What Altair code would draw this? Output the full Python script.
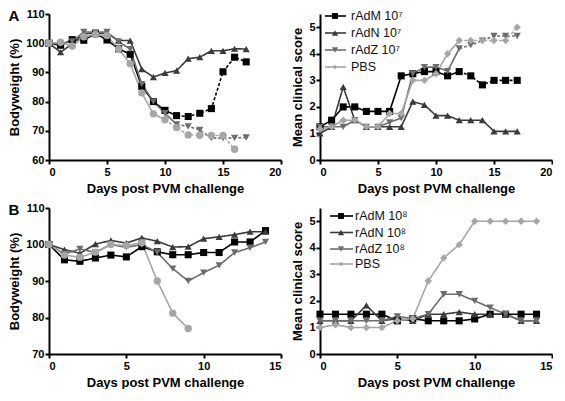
import altair as alt
import pandas as pd

series_keys = ["rAdM", "rAdN", "rAdZ", "PBS"]
legend_labels_A = ["rAdM 10⁷", "rAdN 10⁷", "rAdZ 10⁷", "PBS"]
legend_labels_B = ["rAdM 10⁸", "rAdN 10⁸", "rAdZ 10⁸", "PBS"]

days_A = list(range(18))
days_B = list(range(15))

# Panel A - bodyweight (%)
weight_A_rAdM = [100, 99.3, 101.2, 101, 103.3, 101.1, 98.1, 96.2, 85.2, 80, 77, 75.2, 74.9, 76, 77.6, 90.2, 95.2, 93.6]
weight_A_rAdN = [100, 96.9, 99.8, 103.2, 103.5, 103.4, 100.9, 100.9, 91.1, 88.4, 89.8, 90.6, 94.7, 95.2, 97.4, 97.4, 98.1, 98]
weight_A_rAdZ = [100, 99.8, 100.6, 103.9, 103.7, 103.9, 100.5, 98, 86, 80, 76, 72.2, 71.5, 70.3, 67.5, 67.5, 67.6, 67.7]
weight_A_PBS = [100, 100.3, 99, 102.2, 103, 102.6, 98, 93, 83, 75.8, 73.8, 71.1, 68.6, 68.5, 68.4, 68.4, 63.7]
dash_A_weight = [11, None, 11, 10]

# Panel A - mean clinical score
score_A_rAdM = [1.25, 1.5, 2.0, 2.0, 1.83, 1.83, 1.83, 3.17, 3.25, 3.33, 3.33, 3.17, 3.33, 3.17, 2.83, 3.0, 3.0, 3.0]
score_A_rAdN = [1.0, 1.25, 2.75, 1.5, 1.25, 1.25, 1.25, 1.25, 2.2, 2.08, 1.67, 1.67, 1.5, 1.5, 1.5, 1.08, 1.08, 1.08]
score_A_rAdZ = [1.25, 1.25, 1.25, 1.5, 1.25, 1.25, 1.42, 1.58, 3.25, 3.5, 3.5, 3.35, 4.2, 4.33, 4.5, 4.67, 4.67, 4.67]
score_A_PBS = [1.17, 1.25, 1.5, 1.5, 1.25, 1.25, 1.75, 1.75, 3.0, 3.0, 3.25, 4.0, 4.5, 4.5, 4.5, 4.5, 4.5, 5.0]
dash_A_score = [12, None, 12, 12]

# Panel B - bodyweight (%)
weight_B_rAdM = [100, 95.8, 95.4, 96.3, 97.1, 96.6, 99.4, 98, 97.2, 97.2, 97.8, 97.8, 100.7, 100.7, 103.8]
weight_B_rAdN = [100, 98.6, 97.6, 100.1, 101.1, 100.4, 101.8, 100.9, 99.3, 99.4, 101.6, 102.1, 102.7, 103.5, 103.5]
weight_B_rAdZ = [100, 97.4, 98.8, 97.8, 100, 99.2, 100, 97.8, 93.4, 90, 92.3, 94.3, 97.8, 99.1, 100.7]
weight_B_PBS = [100, 97.1, 96.5, 97.9, 100, 99.7, 100.5, 90, 81.2, 77]
dash_B_weight = [None, None, None, None]

# Panel B - mean clinical score
score_B_rAdM = [1.5, 1.5, 1.5, 1.5, 1.5, 1.25, 1.33, 1.25, 1.25, 1.25, 1.32, 1.5, 1.5, 1.5, 1.5]
score_B_rAdN = [1.25, 1.25, 1.25, 1.83, 1.25, 1.33, 1.25, 1.5, 1.5, 1.58, 1.5, 1.5, 1.5, 1.25, 1.25]
score_B_rAdZ = [1.25, 1.25, 1.25, 1.25, 1.25, 1.42, 1.33, 1.5, 2.25, 2.25, 2.0, 1.75, 1.5, 1.25, 1.25]
score_B_PBS = [1.0, 1.1, 1.0, 1.0, 1.0, 1.25, 1.33, 2.75, 3.62, 4.12, 5.0, 5.0, 5.0, 5.0, 5.0]
dash_B_score = [None, None, None, None]

line_colors = ["#000000", "#3a3a3a", "#6c6c6c", "#a6a6a6"]
FONT = "Liberation Sans"
W, H = 232, 146


def build(days, lists, dash_from):
    line_rows, point_rows = [], []
    for key, vals, d in zip(series_keys, lists, dash_from):
        for i, v in enumerate(vals):
            day = days[i]
            point_rows.append(dict(series=key, day=day, val=v))
            if d is None or i <= d:
                line_rows.append(dict(series=key, seg="solid", grp=key + "_s", day=day, val=v))
            if d is not None and i >= d:
                line_rows.append(dict(series=key, seg="dash", grp=key + "_d", day=day, val=v))
    return pd.DataFrame(line_rows), pd.DataFrame(point_rows)


def panel(days, lists, dash, xmax, ydom, yticks, ytitle, shapes, sizes,
          legend_labels=None, legend_rows=None, legend_x=None, letter=None):
    ldf, pdf = build(days, lists, dash)
    xenc = alt.X("day:Q", scale=alt.Scale(domain=[0, xmax], nice=False),
                 axis=alt.Axis(values=list(range(0, xmax + 1, 5)), title="Days post PVM challenge"))
    yenc = alt.Y("val:Q", scale=alt.Scale(domain=ydom, nice=False, zero=False),
                 axis=alt.Axis(values=yticks, title=ytitle))
    color = alt.Color("series:N", scale=alt.Scale(domain=series_keys, range=line_colors), legend=None)
    lines = alt.Chart(ldf).mark_line(strokeWidth=1.6).encode(
        x=xenc, y=yenc, color=color, detail="grp:N", order="day:Q",
        strokeDash=alt.StrokeDash("seg:N", scale=alt.Scale(domain=["solid", "dash"], range=[[1, 0], [3, 2]]), legend=None),
    )
    points = alt.Chart(pdf).mark_point(filled=True, opacity=1).encode(
        x=xenc, y=yenc, color=color,
        shape=alt.Shape("series:N", scale=alt.Scale(domain=series_keys, range=shapes), legend=None),
        size=alt.Size("series:N", scale=alt.Scale(domain=series_keys, range=sizes), legend=None),
    )
    layers = [lines, points]
    if legend_labels is not None:
        leg_df = pd.DataFrame({"series": series_keys, "label": legend_labels})
        x0, x1, xm, xt = legend_x
        for i, key in enumerate(series_keys):
            ry = legend_rows[i]
            base = alt.Chart(leg_df).transform_filter(alt.datum.series == key)
            layers.append(base.mark_rule(color=line_colors[i], strokeWidth=1.6).encode(
                x=alt.value(x0), x2=alt.value(x1), y=alt.value(ry)))
            layers.append(base.mark_point(filled=True, opacity=1, shape=shapes[i], size=sizes[i] * 0.7,
                                          color=line_colors[i]).encode(x=alt.value(xm), y=alt.value(ry)))
            layers.append(base.mark_text(align="left", baseline="middle", font=FONT, fontSize=12.5,
                                         color="#111111").encode(x=alt.value(xt), y=alt.value(ry), text="label:N"))
    if letter is not None:
        let_df = pd.DataFrame({"letter": [letter]})
        layers.append(alt.Chart(let_df).mark_text(align="center", baseline="middle", font=FONT,
                                                  fontSize=15, fontWeight="bold", color="black").encode(
            x=alt.value(-35), y=alt.value(2), text="letter:N"))
    return alt.layer(*layers).properties(width=W, height=H)


shapes_w = ["square", "triangle-up", "triangle-down", "circle"]
shapes_s = ["square", "triangle-up", "triangle-down", "diamond"]
sizes_w = [50, 55, 55, 48]
sizes_s = [50, 55, 55, 32]

tl = panel(days_A, [weight_A_rAdM, weight_A_rAdN, weight_A_rAdZ, weight_A_PBS], dash_A_weight,
           20, [60, 110], [60, 70, 80, 90, 100, 110], "Bodyweight (%)", shapes_w, sizes_w, letter="A")
tr = panel(days_A, [score_A_rAdM, score_A_rAdN, score_A_rAdZ, score_A_PBS], dash_A_score,
           20, [0, 5.5], [0, 1, 2, 3, 4, 5], "Mean clinical score", shapes_s, sizes_s,
           legend_labels=legend_labels_A, legend_rows=[2, 19, 36, 53], legend_x=[5, 26, 15, 31])
bl = panel(days_B, [weight_B_rAdM, weight_B_rAdN, weight_B_rAdZ, weight_B_PBS], dash_B_weight,
           15, [70, 110], [70, 80, 90, 100, 110], "Bodyweight (%)", shapes_w, sizes_w, letter="B")
br = panel(days_B, [score_B_rAdM, score_B_rAdN, score_B_rAdZ, score_B_PBS], dash_B_score,
           15, [0, 5.5], [0, 1, 2, 3, 4, 5], "Mean clinical score", shapes_s, sizes_s,
           legend_labels=legend_labels_B, legend_rows=[8, 24.5, 41, 56], legend_x=[10, 33, 21, 35])

chart = alt.concat(tl, tr, bl, br, columns=2, spacing={"row": 48, "column": 39}, bounds="flush").resolve_scale(
    shape="independent", size="independent"
).properties(
    padding=0
).configure_view(stroke=None).configure_axis(
    domainColor="black", domainWidth=2, tickColor="black", tickWidth=2, tickSize=4,
    labelFont=FONT, labelFontWeight="bold", labelFontSize=11, labelColor="black", labelPadding=1,
    titleFont=FONT, titleFontWeight="bold", titleFontSize=13, titleColor="black", grid=False,
).configure_axisX(titlePadding=5, labelPadding=2).configure_axisY(titlePadding=4)

chart.save("out.html", embed_options={"renderer": "svg", "actions": False})
